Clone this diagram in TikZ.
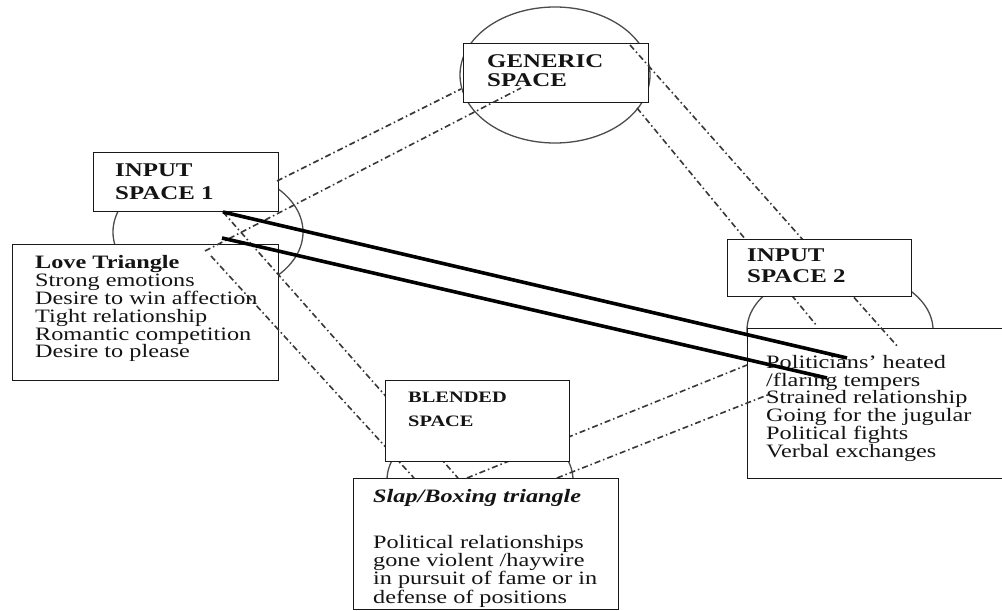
\documentclass[tikz,border=0pt]{standalone}
\usepackage{fontspec}
\setmainfont{Liberation Serif}[FakeStretch=1.28]
\usetikzlibrary{shapes.geometric}
\begin{document}
\begin{tikzpicture}[x=1bp,y=-1bp,
  box/.style={draw=black!90, line width=1.4bp, fill=white, inner sep=0pt, anchor=north west},
  circ/.style={ellipse, draw=black!70, line width=1.3bp, inner sep=0pt},
  dd/.style={draw=black!78, line width=1.6bp, dash pattern=on 6bp off 3bp on 1.5bp off 3bp},
  heavy/.style={draw=black, line width=3.6bp},
  txt/.style={anchor=north west, inner sep=0pt, align=left, text=black!92, font=\fontsize{19}{18}\selectfont},
  hdr/.style={anchor=north west, inner sep=0pt, align=left, text=black!92, font=\fontsize{19.5}{#1}\selectfont\bfseries},
]
\useasboundingbox[fill=white] (0,0) rectangle (1002,611);
% ellipses behind the boxes
\node[circ, minimum width=190bp, minimum height=136bp] (genc) at (555,75) {};
\node[circ, minimum width=190bp, minimum height=128bp] (c1) at (208,232) {};
\node[circ, minimum width=186bp, minimum height=120bp] (c2) at (840,330) {};
\node[circ, minimum width=186bp, minimum height=120bp] (c3) at (480,480) {};
% boxes
\node[box, minimum width=185bp, minimum height=59bp] (gen) at (463,43) {};
\node[box, minimum width=185bp, minimum height=59bp] (in1) at (93,152) {};
\node[box, minimum width=266bp, minimum height=136bp] (love) at (12,244) {};
\node[box, minimum width=262bp, minimum height=150bp] (pol) at (747,328) {};
\node[box, minimum width=265bp, minimum height=131bp] (slap) at (353,478) {};
% connector end points
\coordinate (a1) at (277,181); \coordinate (a2) at (461,89);
\coordinate (b1) at (205,251); \coordinate (b2) at (521,88);
\coordinate (c1s) at (630,45); \coordinate (c1e) at (898,347);
\coordinate (d1) at (637,108); \coordinate (d2) at (817,326);
\coordinate (e1) at (223,212); \coordinate (e2) at (458,478);
\coordinate (f1) at (211,256); \coordinate (f2) at (414,478);
\coordinate (g1) at (467,478); \coordinate (g2) at (747,365);
\coordinate (h1) at (557,478); \coordinate (h2) at (770,394);
\coordinate (t1) at (223,212); \coordinate (t2) at (847,358);
\coordinate (u1) at (222,238); \coordinate (u2) at (827,378);
% connectors passing under boxes
\draw[dd] (c1s) -- (c1e);
\draw[dd] (d1) -- (d2);
\draw[dd] (e1) -- (e2);
\draw[dd] (f1) -- (f2);
\draw[dd] (g1) -- (g2);
% boxes on top of those
\node[box, minimum width=184bp, minimum height=57bp] (in2) at (727,239) {};
\node[box, minimum width=184bp, minimum height=81bp] (blend) at (385,380) {};
% texts
\node[hdr=20] (gent) at (487,54) {GENERIC\\SPACE};
\node[hdr=22.5] (in1t) at (115,164) {INPUT\\SPACE 1};
\node[hdr=21] (in2t) at (747,249) {INPUT\\SPACE 2};
\node[anchor=north west, inner sep=0pt, align=left, text=black!92, font=\fontsize{16}{24}\selectfont\bfseries] (blendt) at (408,392) {BLENDED\\SPACE};
\node[txt] (lovet) at (35,255) {\textbf{Love Triangle}\\Strong emotions\\Desire to win affection\\Tight relationship\\Romantic competition\\Desire to please};
\node[txt, font=\fontsize{19}{17.8}\selectfont] (polt) at (766,355) {Politicians’ heated\\/flaring tempers\\Strained relationship\\Going for the jugular\\Political fights\\Verbal exchanges};
\node[txt, font=\fontsize{19}{18}\selectfont\bfseries\itshape] (slapt) at (373,489) {Slap/Boxing triangle};
\node[txt, font=\fontsize{19}{17}\selectfont] (slapb) at (373,535) {Political relationships\\gone violent /haywire\\in pursuit of fame or in\\defense of positions};
% remaining connectors
\draw[dd] (a1) -- (a2);
\draw[dd] (b1) -- (b2);
\draw[dd] (h1) -- (h2);
\draw[heavy] (t1) -- (t2);
\draw[heavy] (u1) -- (u2);
\end{tikzpicture}
\end{document}
